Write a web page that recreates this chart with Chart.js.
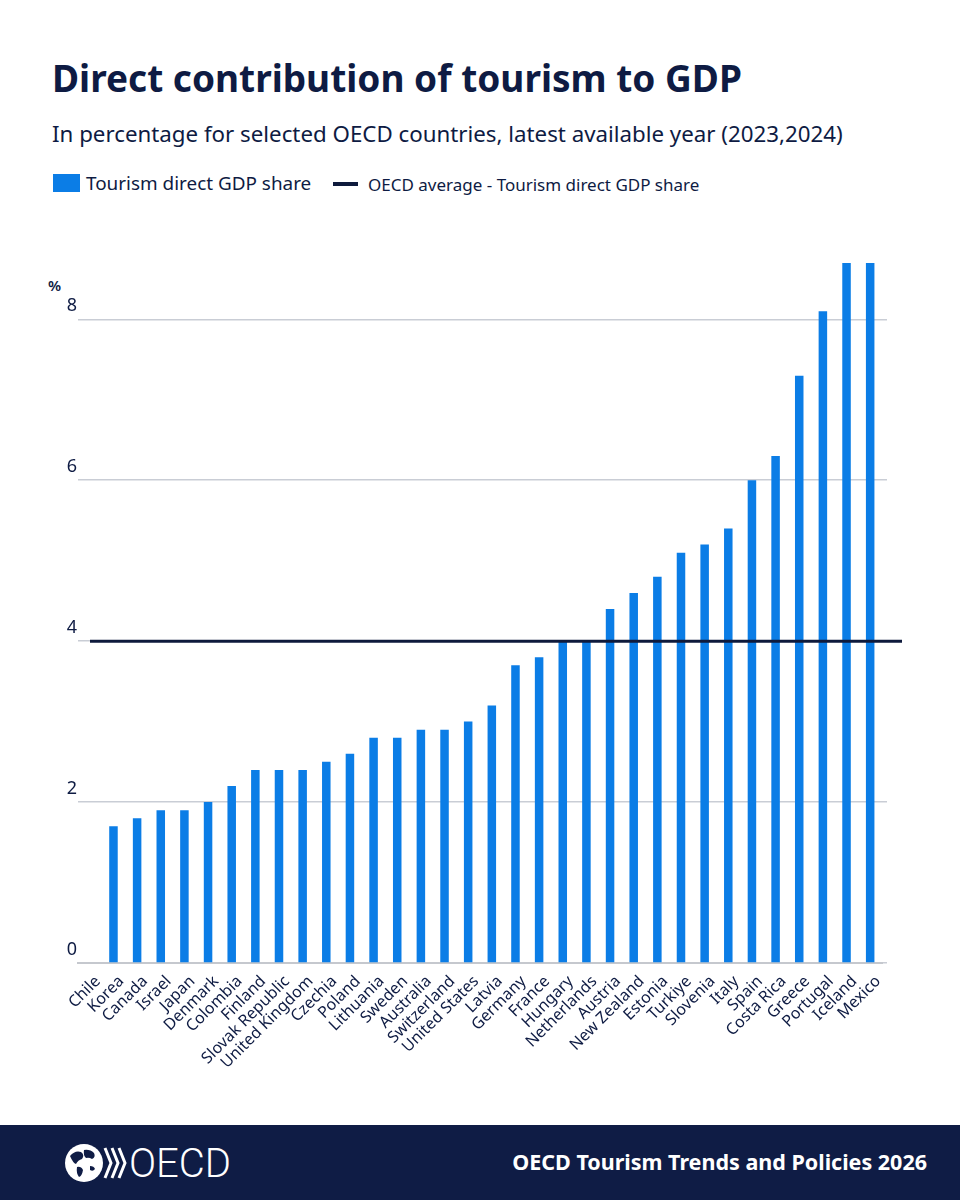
<!DOCTYPE html>
<html><head><meta charset="utf-8">
<script src="https://cdn.jsdelivr.net/npm/chart.js@4.4.1/dist/chart.umd.min.js"></script>
<style>
html,body{margin:0;padding:0;background:#fff;}
body{width:960px;height:1200px;position:relative;overflow:hidden;font-family:"Noto Sans",sans-serif;color:#0e1b43;}
#title{position:absolute;left:52px;top:59px;font-size:37px;line-height:37px;font-weight:700;white-space:nowrap;}
#subtitle{position:absolute;left:52px;top:123px;font-size:22.3px;line-height:22px;white-space:nowrap;}
.leg{position:absolute;display:flex;align-items:center;white-space:nowrap;}
#leg1{left:53px;top:170px;height:26px;font-size:18.9px;}
#leg1 .sw{width:27px;height:18px;background:#0b7de6;margin-right:6px;}
#leg2{left:333px;top:172px;height:24px;font-size:17px;}
#leg2 .sw{width:25px;height:4px;background:#0e1a3c;margin-right:10px;}
#pct{position:absolute;left:48px;top:278px;font-size:15px;font-weight:600;line-height:15px;}
#wrap{position:absolute;left:0;top:230px;width:960px;height:895px;}
#footer{position:absolute;left:0;top:1125px;width:960px;height:75px;background:#0f1c45;}
#ftext{position:absolute;right:33px;top:26px;color:#fff;font-size:21.5px;line-height:22px;font-weight:700;white-space:nowrap;}
#logo{position:absolute;left:62px;top:17px;}
</style></head>
<body>
<div id="title">Direct contribution of tourism to GDP</div>
<div id="subtitle">In percentage for selected OECD countries, latest available year (2023,2024)</div>
<div class="leg" id="leg1"><div class="sw"></div><span>Tourism direct GDP share</span></div>
<div class="leg" id="leg2"><div class="sw"></div><span>OECD average - Tourism direct GDP share</span></div>
<div id="pct">%</div>
<div id="wrap"><canvas id="c" width="960" height="895"></canvas></div>
<div id="footer">
  <svg id="logo" width="180" height="42" viewBox="0 0 180 42">
    <circle cx="22" cy="21" r="19" fill="#fff"/>
    <path d="M8 14 q5 -6 11 -4 q4 3 1 7 q-4 1 -6 5 q-3 -1 -6 -8z M22 8 q6 -1 10 3 q2 4 -2 6 q-3 -2 -6 -1 q-3 -3 -2 -8z M15 25 q4 -1 6 3 q-1 6 -4 7 q-3 -4 -2 -10z M28 24 q4 0 5 3 q-2 3 -5 1z" fill="#0f1c45"/>
    <path d="M43 6 l6 15 l-6 15" stroke="#fff" stroke-width="3" fill="none"/>
    <path d="M50 6 l6 15 l-6 15" stroke="#fff" stroke-width="3" fill="none"/>
    <path d="M57 6 l6 15 l-6 15" stroke="#fff" stroke-width="3" fill="none"/>
    <text x="67" y="35" fill="#fff" font-family="Roboto, 'Open Sans', sans-serif" font-weight="300" font-size="40">OECD</text>
  </svg>
  <div id="ftext">OECD Tourism Trends and Policies 2026</div>
</div>
<script>
const countries = ["Chile","Korea","Canada","Israel","Japan","Denmark","Colombia","Finland","Slovak Republic","United Kingdom","Czechia","Poland","Lithuania","Sweden","Australia","Switzerland","United States","Latvia","Germany","France","Hungary","Netherlands","Austria","New Zealand","Estonia","Turkiye","Slovenia","Italy","Spain","Costa Rica","Greece","Portugal","Iceland","Mexico"];
const tourismShare = [null,1.7,1.8,1.9,1.9,2.0,2.2,2.4,2.4,2.4,2.5,2.6,2.8,2.8,2.9,2.9,3.0,3.2,3.7,3.8,4.0,4.0,4.4,4.6,4.8,5.1,5.2,5.4,6.0,6.3,7.3,8.1,8.7,8.7];
const oecdAverage = 4.0;
const yTicks = [0,2,4,6,8];
const yMax = 8.7;

const NAVY = '#0e1b43';
const avgLine = {
  id:'avgLine',
  afterDatasetsDraw(chart){
    const {ctx, chartArea, scales} = chart;
    const y = scales.y.getPixelForValue(oecdAverage);
    ctx.save();
    ctx.strokeStyle = '#0e1a3c';
    ctx.lineWidth = 3;
    ctx.beginPath();
    ctx.moveTo(chartArea.left + 12, y);
    ctx.lineTo(chartArea.right + 20, y);
    ctx.stroke();
    ctx.restore();
  }
};
const setTicks = s => { s.ticks = yTicks.map(v => ({value:v})); };

new Chart(document.getElementById('c'), {
  type:'bar',
  data:{ labels: countries, datasets:[{ label:'Tourism direct GDP share', data: tourismShare, backgroundColor:'#0b7de6', barPercentage:0.36, categoryPercentage:1 }]},
  options:{
    responsive:false, animation:false,
    layout:{ padding:{ top:33, right:73, bottom:0, left:0 } },
    plugins:{ legend:{display:false}, tooltip:{enabled:false} },
    scales:{
      x:{
        grid:{ display:false, drawTicks:false },
        border:{ display:true, color:'#c5c8ce', width:2 },
        ticks:{ autoSkip:false, maxRotation:45, minRotation:45, padding:9, labelOffset:8, color:NAVY, font:{ family:'Noto Sans', size:16 } },
        afterFit(s){ s.height = 162; s.paddingLeft = 0; s.paddingRight = 0; }
      },
      y:{
        min:0, max:yMax,
        afterBuildTicks: setTicks,
        grid:{ color:'#c9cdd5', lineWidth:1.5, drawTicks:false },
        border:{ display:false },
        ticks:{ padding:1, labelOffset:-13, color:NAVY, font:{ family:'Noto Sans', size:18 } },
        afterFit(s){ s.width = 78; s.paddingTop = 0; s.paddingBottom = 0; }
      },
      y2:{
        position:'right', min:0, max:yMax,
        afterBuildTicks: setTicks,
        grid:{ color:'#c9cdd5', lineWidth:1.5, drawOnChartArea:false, drawTicks:true, tickLength:5 },
        border:{ display:false },
        ticks:{ display:false },
        afterFit(s){ s.width = 5; s.paddingTop = 0; s.paddingBottom = 0; }
      }
    }
  },
  plugins:[avgLine]
});
</script>
</body></html>
